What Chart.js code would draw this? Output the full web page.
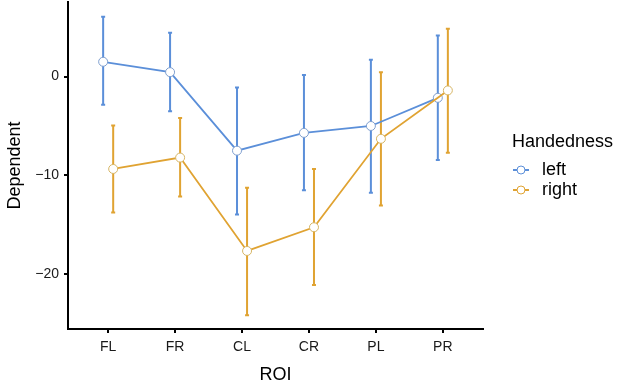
<!DOCTYPE html>
<html>
<head>
<meta charset="utf-8">
<script src="https://cdn.jsdelivr.net/npm/chart.js@4"></script>
<style>
  html, body { margin: 0; padding: 0; background: #fff; }
  #wrap { width: 624px; height: 390px; }
</style>
</head>
<body>
<div id="wrap"><canvas id="chart"></canvas></div>
<script>
// ROI categories and group means with error bar limits
const categories = ['FL', 'FR', 'CL', 'CR', 'PL', 'PR'];
const groups = ['left', 'right'];
const leftMean = [1.5, 0.45, -7.5, -5.7, -5.0, -2.15];
const leftLower = [-2.85, -3.5, -13.95, -11.5, -11.75, -8.45];
const leftUpper = [6.05, 4.45, -1.1, 0.15, 1.7, 4.15];
const rightMean = [-9.35, -8.2, -17.65, -15.25, -6.3, -1.4];
const rightLower = [-13.75, -12.15, -24.15, -21.1, -13.05, -7.7];
const rightUpper = [-4.95, -4.2, -11.25, -9.35, 0.45, 4.85];
const yTicks = [-20, -10, 0];

const FONT = "'Liberation Sans', Arial, sans-serif";
const BLUE = '#5b8fd9';
const ORANGE = '#e0a332';
const DODGE = 0.075;

function toPoints(means, shift) {
  return means.map((v, i) => ({ x: i + 1 + shift, y: v }));
}

// error bars drawn under the lines, using the chart scales
const errorBars = {
  id: 'errorBars',
  beforeDatasetsDraw(chart) {
    const ctx = chart.ctx;
    const xs = chart.scales.x, ys = chart.scales.y;
    const sets = [
      { lo: leftLower, hi: leftUpper, shift: -DODGE, color: BLUE },
      { lo: rightLower, hi: rightUpper, shift: DODGE, color: ORANGE }
    ];
    ctx.save();
    sets.forEach(s => {
      ctx.strokeStyle = s.color;
      ctx.lineWidth = 2;
      s.lo.forEach((lo, i) => {
        const x = xs.getPixelForValue(i + 1 + s.shift);
        const y1 = ys.getPixelForValue(lo);
        const y2 = ys.getPixelForValue(s.hi[i]);
        ctx.beginPath();
        ctx.moveTo(x, y1); ctx.lineTo(x, y2);
        ctx.moveTo(x - 2, y1); ctx.lineTo(x + 2, y1);
        ctx.moveTo(x - 2, y2); ctx.lineTo(x + 2, y2);
        ctx.stroke();
      });
    });
    ctx.restore();
  }
};

// ggplot style legend on the right
const sideLegend = {
  id: 'sideLegend',
  afterDraw(chart) {
    const ctx = chart.ctx;
    ctx.save();
    ctx.fillStyle = '#000';
    ctx.textBaseline = 'middle';
    ctx.font = '18px ' + FONT;
    ctx.fillText('Handedness', 512, 142);
    const cols = [BLUE, ORANGE];
    groups.forEach((g, i) => {
      const y = 170 + i * 20;
      ctx.strokeStyle = cols[i];
      ctx.lineWidth = 2;
      ctx.beginPath();
      ctx.moveTo(513, y); ctx.lineTo(529, y);
      ctx.stroke();
      ctx.beginPath();
      ctx.arc(521, y, 4, 0, Math.PI * 2);
      ctx.fillStyle = '#fff';
      ctx.fill();
      ctx.lineWidth = 1;
      ctx.stroke();
      ctx.fillStyle = '#000';
      ctx.fillText(g, 542, y);
    });
    ctx.restore();
  }
};

new Chart(document.getElementById('chart'), {
  type: 'line',
  data: {
    datasets: [
      {
        label: 'left',
        data: toPoints(leftMean, -DODGE),
        borderColor: BLUE,
        borderWidth: 1.8,
        pointRadius: 4.5,
        pointBackgroundColor: '#fff',
        pointBorderColor: '#7f9fcf',
        pointBorderWidth: 1,
        order: 2
      },
      {
        label: 'right',
        data: toPoints(rightMean, DODGE),
        borderColor: ORANGE,
        borderWidth: 1.8,
        pointRadius: 4.5,
        pointBackgroundColor: '#fff',
        pointBorderColor: '#d6b565',
        pointBorderWidth: 1,
        order: 1
      }
    ]
  },
  options: {
    responsive: true,
    maintainAspectRatio: false,
    animation: false,
    layout: { autoPadding: false, padding: { left: 0, top: 2, right: 141, bottom: 0 } },
    plugins: {
      legend: { display: false },
      tooltip: { enabled: false }
    },
    scales: {
      x: {
        type: 'linear',
        min: 0.4,
        max: 6.6,
        afterBuildTicks: s => { s.ticks = categories.map((c, i) => ({ value: i + 1 })); },
        afterFit: s => { s.height = 61; s.paddingLeft = 0; s.paddingRight = 0; },
        ticks: {
          callback: v => categories[v - 1],
          font: { family: FONT, size: 14 },
          color: '#1a1a1a',
          padding: 6,
          maxRotation: 0
        },
        grid: { display: true, drawOnChartArea: false, tickLength: 4, color: '#000', lineWidth: 2 },
        border: { display: true, color: '#000', width: 2 },
        title: { display: true, text: 'ROI', font: { family: FONT, size: 18 }, color: '#000' }
      },
      y: {
        min: -25.55,
        max: 7.55,
        afterBuildTicks: s => { s.ticks = yTicks.map(v => ({ value: v })); },
        afterFit: s => { s.width = 68; s.paddingTop = 0; s.paddingBottom = 0; },
        ticks: {
          callback: v => String(v).replace('-', '\u2212'),
          font: { family: FONT, size: 14 },
          color: '#1a1a1a',
          padding: 5
        },
        grid: { display: true, drawOnChartArea: false, tickLength: 4, color: '#000', lineWidth: 2 },
        border: { display: true, color: '#000', width: 2 },
        title: { display: true, text: 'Dependent', font: { family: FONT, size: 18 }, color: '#000' }
      }
    }
  },
  plugins: [errorBars, sideLegend]
});
</script>
</body>
</html>
